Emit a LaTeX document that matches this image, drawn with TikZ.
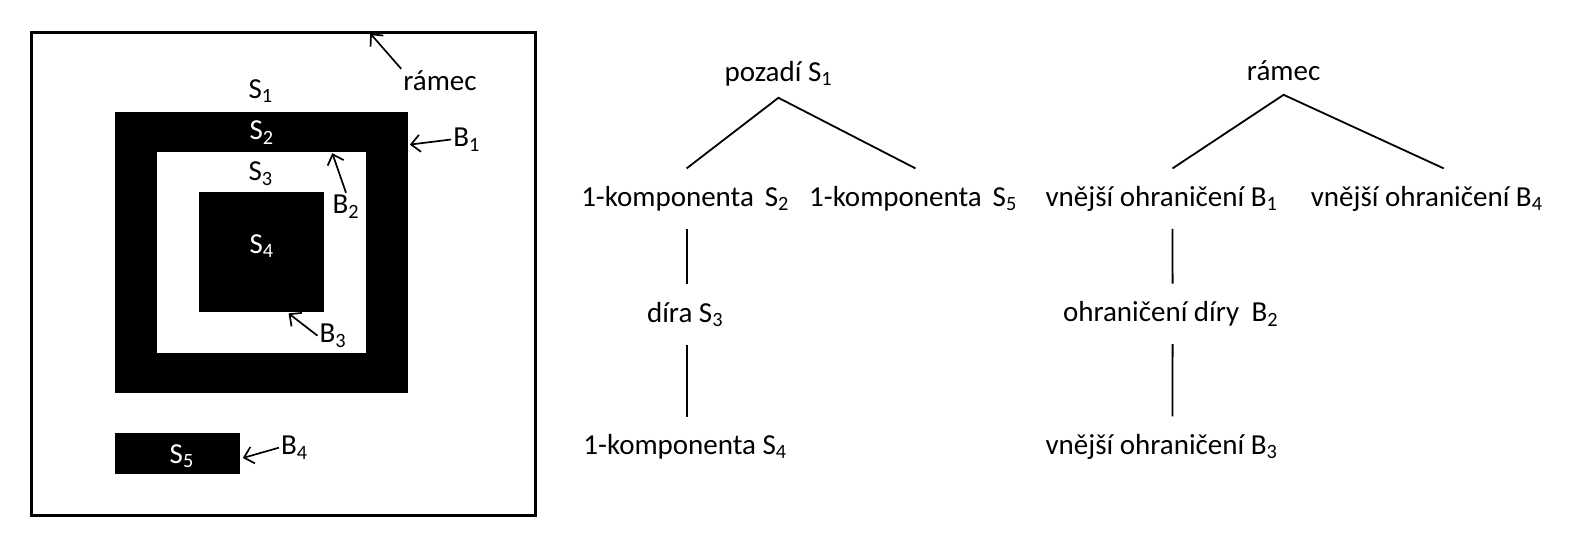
\documentclass[tikz,border=0pt]{standalone}
\usepackage{fontspec}
\setmainfont{Carlito}
\usetikzlibrary{positioning,arrows.meta}

\tikzset{
  lbl/.style={inner sep=2pt},
  wlbl/.style={lbl,text=white},
  ptr/.style={line width=1.7pt,-{Straight Barb[length=9pt,width=17pt]}},
  tnode/.style={minimum height=60pt,inner sep=0pt},
  troot/.style={minimum height=48pt,inner sep=0pt},
  edge/.style={line width=1.8pt}
}

\begin{document}
\begin{tikzpicture}[x=1pt,y=-1pt,font=\fontsize{29}{34}\selectfont]
    \useasboundingbox (0,0) rectangle (1581,536);

    % Image: frame and components
    \draw[line width=3pt] (31,32) rectangle (535,515);
    \fill (114.7,111.9) rectangle (408.4,392.6);
    \fill[white] (156.7,151.5) rectangle (366.4,353);
    \fill (198.7,191.8) rectangle (324.4,312.3);
    \fill (114.7,433.2) rectangle (240,473.5);

    % Region labels
    \node[lbl]  (s1) at (260.7,91.3) {S\textsubscript{1}};
    \node[wlbl] (s2) at (261.7,132.6) {S\textsubscript{2}};
    \node[lbl]  (s3) at (260.7,173.9) {S\textsubscript{3}};
    \node[wlbl] (s4) at (261.7,246.2) {S\textsubscript{4}};
    \node[wlbl] (s5) at (181.8,456.3) {S\textsubscript{5}};

    % Border labels and pointers
    \node[lbl] (ramec) at (440,81) {rámec};
    \node[lbl] (b1) at (466.6,139.5) {B\textsubscript{1}};
    \node[lbl] (b2) at (346,206.6) {B\textsubscript{2}};
    \node[lbl] (b3) at (333,335.7) {B\textsubscript{3}};
    \node[lbl] (b4) at (294.4,447.7) {B\textsubscript{4}};
    \coordinate (pramec) at (370.2,33.4);
    \coordinate (pb1) at (409.8,144.6);
    \coordinate (pb2) at (332.3,153.2);
    \coordinate (pb3) at (288.6,313.4);
    \coordinate (pb4) at (242.8,458);
    \draw[ptr] (ramec.north west) -- (pramec);
    \draw[ptr] (b1.west) -- (pb1);
    \draw[ptr] (b2.north) -- (pb2);
    \draw[ptr] (b3.west) -- (pb3);
    \draw[ptr] (b4.west) -- (pb4);

    % Component tree
    \node[troot] (pozadi) at (778.4,73.6) {pozadí S\textsubscript{1}};
    \node[tnode] (k2) at (685.1,198.6) {1-komponenta\hspace{0.15em} S\textsubscript{2}};
    \node[tnode] (k5) at (913,198.6) {1-komponenta\hspace{0.15em} S\textsubscript{5}};
    \node[tnode] (dira) at (685.1,314.6) {díra S\textsubscript{3}};
    \node[tnode] (k4) at (685.1,446.7) {1-komponenta S\textsubscript{4}};
    \draw[edge] ([xshift=1.5pt]k2.north) -- (pozadi.south) -- ([xshift=2.5pt]k5.north);
    \draw[edge] ([xshift=1.5pt]k2.south) -- ([xshift=1.5pt]dira.north);
    \draw[edge] ([xshift=1.5pt]dira.south) -- ([xshift=1.5pt]k4.north);

    % Border tree
    \node[troot] (ramecT) at (1283.6,70.6) {rámec};
    \node[tnode] (vb1) at (1161.5,198.6) {vnější ohraničení B\textsubscript{1}};
    \node[tnode] (vb4) at (1426.7,198.6) {vnější ohraničení B\textsubscript{4}};
    \node[tnode] (ob2) at (1170.6,313.8) {ohraničení díry\hspace{0.2em} B\textsubscript{2}};
    \node[tnode] (vb3) at (1161.5,446.6) {vnější ohraničení B\textsubscript{3}};
    \draw[edge] ([xshift=11pt]vb1.north) -- (ramecT.south) -- ([xshift=17pt]vb4.north);
    \draw[edge] ([xshift=11pt]vb1.south) -- ([xshift=2pt]ob2.north);
    \draw[edge] ([xshift=2pt]ob2.south) -- ([xshift=11pt]vb3.north);
\end{tikzpicture}
\end{document}
